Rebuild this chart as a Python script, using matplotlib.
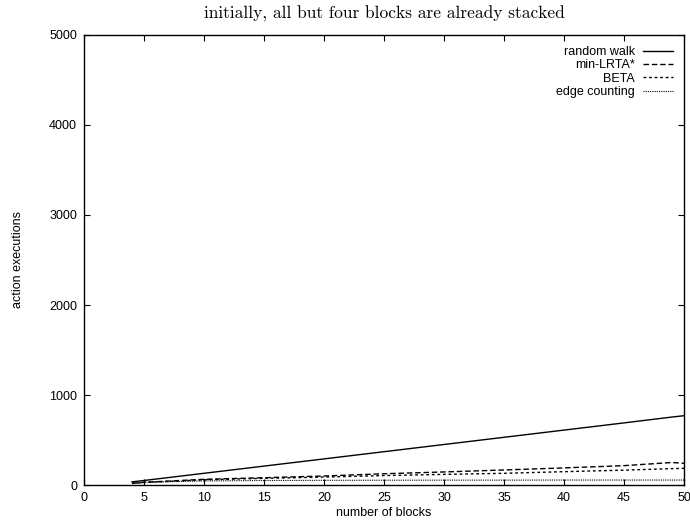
import matplotlib
matplotlib.use("Agg")
from matplotlib import pyplot as plt

blocks = [4, 5, 10, 15, 20, 25, 30, 35, 40, 45, 49, 50]
random_walk = [35, 50, 130, 210, 290, 370, 450, 530, 610, 690, 755, 770]
min_lrta = [20, 30, 63, 81, 100, 125, 145, 167, 190, 215, 250, 241]
beta = [18, 28, 58, 74, 88, 105, 118, 130, 148, 165, 182, 185]
edge_counting = [15, 30, 45, 50, 52, 53, 54, 54, 55, 55, 55, 55]

plt.rcParams['font.family'] = ['Liberation Sans', 'DejaVu Sans']

fig = plt.figure(figsize=(6.9, 5.25), dpi=100)
ax = fig.add_axes([84/690, 40/525, 600/690, 450/525])

ax.plot(blocks, random_walk, color='black', lw=1.0, ls='-', label='random walk')
ax.plot(blocks, min_lrta, color='black', lw=1.0, ls=(0, (4, 2)), label='min-LRTA*')
ax.plot(blocks, beta, color='black', lw=1.0, ls=(0, (2, 2)), label='BETA')
ax.plot(blocks, edge_counting, color='black', lw=0.8, ls=(0, (1, 1)), label='edge counting')

ax.set_xlim(0, 50)
ax.set_ylim(0, 5000)
ax.set_xticks(range(0, 51, 5))
ax.set_yticks(range(0, 5001, 1000))
ax.tick_params(direction='in', top=True, right=True, length=4, labelsize=9, pad=5)
for s in ax.spines.values():
    s.set_linewidth(1.0)

ax.set_xlabel('number of blocks', fontsize=9, labelpad=2)
ax.set_ylabel('action executions', fontsize=9, labelpad=18)
ax.set_title('initially, all but four blocks are already stacked',
             fontsize=12.5, family='cmr10', pad=12)

leg = ax.legend(loc='upper right', frameon=False, markerfirst=False,
                fontsize=9, handlelength=2.4, handletextpad=0.6,
                labelspacing=0.1, borderaxespad=0.5)
for t in leg.get_texts():
    t.set_ha('right')

fig.savefig('out.png', dpi=100)
